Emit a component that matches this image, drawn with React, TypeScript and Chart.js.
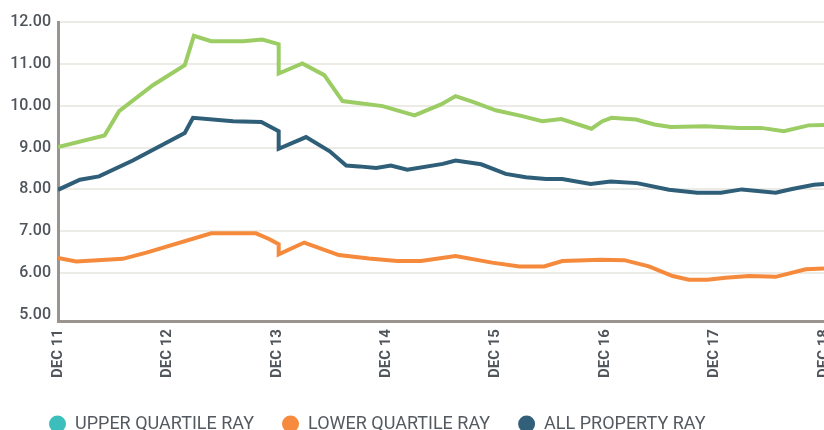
import React, { useEffect, useRef } from 'react';
import { Chart, registerables } from 'chart.js';

Chart.register(...registerables);

// ---- data (x = months since Dec 2011) ----
const xTickLabels = ['DEC 11', 'DEC 12', 'DEC 13', 'DEC 14', 'DEC 15', 'DEC 16', 'DEC 17', 'DEC 18'];
const yTickValues = [5, 6, 7, 8, 9, 10, 11, 12];
const seriesNames = ['UPPER QUARTILE RAY', 'LOWER QUARTILE RAY', 'ALL PROPERTY RAY'];

const upperMonths = [0, 5.1, 6.7, 10.4, 13.9, 14.9, 16.8, 20.3, 22.4, 24.2, 24.2, 26.8, 29.2, 31.2, 35.6, 39.1, 42.0, 43.6, 45.5, 48.0, 50.9, 53.1, 55.2, 58.5, 59.7, 60.7, 63.4, 65.4, 67.2, 71.0, 74.7, 77.1, 79.6, 82.3, 84];
const upperValues = [9.01, 9.29, 9.87, 10.49, 10.97, 11.67, 11.54, 11.54, 11.58, 11.47, 10.77, 11.01, 10.73, 10.11, 9.99, 9.77, 10.03, 10.23, 10.09, 9.89, 9.75, 9.63, 9.68, 9.45, 9.63, 9.71, 9.67, 9.55, 9.49, 9.51, 9.47, 9.47, 9.39, 9.53, 9.54];

const lowerMonths = [0, 2.0, 7.1, 9.7, 16.8, 21.7, 23.2, 24.2, 24.2, 27.0, 30.8, 34.1, 37.2, 39.8, 43.6, 47.6, 50.6, 53.3, 55.3, 59.5, 62.1, 64.8, 67.4, 69.2, 71.2, 73.2, 75.8, 78.7, 82.0, 84];
const lowerValues = [6.36, 6.28, 6.34, 6.49, 6.95, 6.95, 6.81, 6.69, 6.45, 6.73, 6.43, 6.35, 6.29, 6.29, 6.41, 6.25, 6.16, 6.16, 6.29, 6.32, 6.31, 6.16, 5.93, 5.84, 5.84, 5.89, 5.93, 5.91, 6.09, 6.11];

const allMonths = [0, 2.4, 4.5, 8.2, 13.9, 14.8, 19.2, 22.3, 24.2, 24.2, 27.2, 29.8, 31.6, 33.0, 34.9, 36.5, 38.3, 42.2, 43.6, 46.4, 49.1, 51.3, 53.5, 55.3, 58.4, 60.6, 63.5, 67.0, 70.1, 72.7, 75.0, 78.7, 80.5, 82.9, 84];
const allValues = [7.99, 8.23, 8.31, 8.69, 9.35, 9.71, 9.63, 9.61, 9.39, 8.97, 9.25, 8.91, 8.57, 8.55, 8.51, 8.57, 8.47, 8.61, 8.69, 8.60, 8.37, 8.29, 8.25, 8.25, 8.13, 8.19, 8.15, 7.99, 7.92, 7.92, 8.00, 7.92, 8.01, 8.11, 8.13];

const lineColors = ['#9bcd64', '#f58a3d', '#2f5e78'];
const legendColors = ['#3cbfbc', '#f68b3f', '#325f7a'];

const W = 850;
const H = 442;
const FONT = 'Roboto, "DejaVu Sans", sans-serif';
const TEXT = '#50555b';

const toPoints = (xs: number[], ys: number[]) => xs.map((x, i) => ({ x, y: ys[i] }));

const legendShift = {
  id: 'legendShift',
  afterLayout(chart: any) {
    const lg = chart.legend;
    if (!lg) return;
    const pad = lg.options.labels.padding;
    const dx = 49 - pad - lg.left;
    lg.left += dx;
    const dy = 424 - 9 - pad - lg.top;
    lg.top += dy;
    lg.bottom += dy;
  },
};

export default function App() {
  const ref = useRef<HTMLCanvasElement>(null);

  useEffect(() => {
    if (!ref.current) return;
    const chart = new Chart(ref.current, {
      type: 'line',
      data: {
        datasets: [
          { label: seriesNames[0], data: toPoints(upperMonths, upperValues) },
          { label: seriesNames[1], data: toPoints(lowerMonths, lowerValues) },
          { label: seriesNames[2], data: toPoints(allMonths, allValues) },
        ].map((d, i) => ({
          ...d,
          borderColor: lineColors[i],
          backgroundColor: legendColors[i],
          borderWidth: 4,
          pointRadius: 0,
          pointHoverRadius: 0,
          tension: 0,
          fill: false,
        })),
      },
      options: {
        animation: false,
        responsive: false,
        events: [],
        layout: { padding: { top: 22, left: 10, right: 10, bottom: 0 } },
        plugins: {
          tooltip: { enabled: false },
          legend: {
            position: 'bottom',
            align: 'start',
            labels: {
              usePointStyle: true,
              boxWidth: 17,
              boxHeight: 12,
              padding: 28,
              color: '#555a60',
              font: { family: FONT, size: 18 },
              generateLabels: (c: any) =>
                c.data.datasets.map((ds: any, i: number) => ({
                  text: ds.label,
                  fillStyle: legendColors[i],
                  strokeStyle: legendColors[i],
                  lineWidth: 0,
                  pointStyle: 'circle',
                  hidden: false,
                  datasetIndex: i,
                  fontColor: '#555a60',
                })),
            },
          },
        },
        scales: {
          x: {
            type: 'linear',
            min: 0,
            max: 84,
            afterBuildTicks: (s: any) => {
              s.ticks = xTickLabels.map((_, i) => ({ value: i * 12 }));
            },
            ticks: {
              autoSkip: false,
              minRotation: 90,
              maxRotation: 90,
              padding: 8,
              color: TEXT,
              font: { family: FONT, size: 15, weight: 'bold' },
              callback: (_v: any, i: number) => xTickLabels[i],
            },
            grid: { drawOnChartArea: false, drawTicks: false },
            border: { display: true, color: '#9a9490', width: 3 },
          },
          y: {
            type: 'linear',
            min: 4.854,
            max: 12,
            afterBuildTicks: (s: any) => {
              s.ticks = yTickValues.map((v) => ({ value: v }));
            },
            afterFit: (s: any) => {
              s.width = 48;
            },
            ticks: {
              padding: 7,
              color: TEXT,
              font: { family: FONT, size: 16, weight: '500' },
              callback: (v: any) => Number(v).toFixed(2),
            },
            grid: {
              color: (ctx: any) => (ctx.tick && ctx.tick.value === 5 ? 'rgba(0,0,0,0)' : '#ecebe5'),
              lineWidth: 2,
              drawTicks: false,
            },
            border: { display: true, color: '#9a9490', width: 3 },
          },
        },
      },
      plugins: [legendShift],
    } as any);
    return () => chart.destroy();
  }, []);

  return (
    <div style={{ position: 'fixed', left: 0, top: 0, width: 824, height: 430, overflow: 'hidden', background: '#fff' }}>
      <canvas ref={ref} width={W} height={H} style={{ display: 'block', width: W, height: H }} />
    </div>
  );
}
